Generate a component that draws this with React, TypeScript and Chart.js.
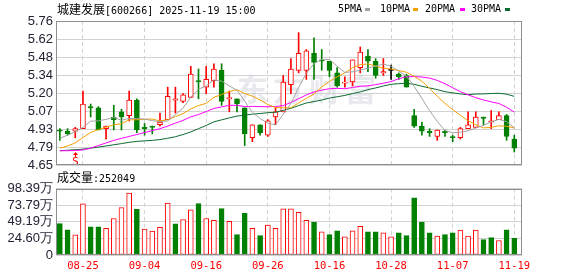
import React, { useEffect, useRef } from 'react';
import { Chart, registerables } from 'chart.js';

Chart.register(...registerables);

// ---------- data ----------
const DATES = [
  '08-20', '08-21', '08-22', '08-25', '08-26', '08-27', '08-28', '08-29', '09-01', '09-02',
  '09-03', '09-04', '09-05', '09-08', '09-09', '09-10', '09-11', '09-12', '09-15', '09-16',
  '09-17', '09-18', '09-19', '09-22', '09-23', '09-24', '09-25', '09-26', '09-29', '09-30',
  '10-09', '10-10', '10-13', '10-14', '10-15', '10-16', '10-17', '10-20', '10-21', '10-22',
  '10-23', '10-24', '10-27', '10-28', '10-29', '10-30', '10-31', '11-03', '11-04', '11-05',
  '11-06', '11-07', '11-10', '11-11', '11-12', '11-13', '11-14', '11-17', '11-18', '11-19',
];

const OPEN = [
  4.92, 4.91, 4.91, 4.93, 5.10, 5.09, 4.93, 5.02, 5.06, 5.03,
  5.15, 4.94, 4.95, 4.96, 5.00, 5.15, 5.14, 5.17, 5.30, 5.25,
  5.30, 5.38, 5.16, 5.16, 5.09, 4.86, 4.96, 4.88, 5.02, 5.06,
  5.27, 5.38, 5.38, 5.51, 5.46, 5.45, 5.36, 5.28, 5.29, 5.40,
  5.49, 5.45, 5.36, 5.38, 5.35, 5.34, 5.03, 4.95, 4.91, 4.87,
  4.91, 4.87, 4.86, 4.93, 4.94, 5.02, 4.98, 5.00, 5.03, 4.85,
];
const HIGH = [
  4.93, 4.93, 4.94, 5.22, 5.12, 5.10, 4.95, 5.11, 5.08, 5.22,
  5.16, 4.97, 4.95, 5.05, 5.25, 5.25, 5.20, 5.41, 5.39, 5.41,
  5.43, 5.43, 5.22, 5.16, 5.09, 4.96, 4.96, 5.00, 5.09, 5.34,
  5.47, 5.67, 5.54, 5.63, 5.54, 5.45, 5.40, 5.33, 5.46, 5.56,
  5.54, 5.47, 5.47, 5.42, 5.36, 5.35, 5.08, 4.98, 4.93, 4.92,
  4.92, 4.88, 4.94, 5.06, 5.06, 5.02, 5.07, 5.06, 5.04, 4.88,
];
const LOW = [
  4.84, 4.88, 4.86, 4.93, 5.02, 4.92, 4.85, 4.92, 4.92, 4.99,
  4.90, 4.88, 4.89, 4.95, 5.00, 5.05, 5.13, 5.17, 5.16, 5.20,
  5.25, 5.11, 5.06, 5.06, 4.80, 4.83, 4.88, 4.87, 4.96, 5.06,
  5.20, 5.36, 5.31, 5.31, 5.38, 5.33, 5.25, 5.25, 5.26, 5.36,
  5.37, 5.32, 5.34, 5.31, 5.31, 5.25, 4.94, 4.88, 4.87, 4.84,
  4.87, 4.83, 4.85, 4.93, 4.94, 4.96, 4.93, 5.00, 4.84, 4.75,
];
const CLOSE = [
  4.91, 4.89, 4.93, 5.12, 5.09, 4.92, 4.95, 5.00, 5.02, 5.15,
  4.92, 4.93, 4.94, 4.98, 5.18, 5.16, 5.19, 5.35, 5.29, 5.31,
  5.39, 5.14, 5.17, 5.12, 4.89, 4.96, 4.90, 4.99, 5.06, 5.29,
  5.39, 5.51, 5.53, 5.44, 5.45, 5.38, 5.26, 5.29, 5.46, 5.52,
  5.45, 5.34, 5.37, 5.38, 5.33, 5.25, 4.95, 4.91, 4.90, 4.92,
  4.90, 4.86, 4.93, 4.96, 5.02, 5.01, 4.99, 5.03, 4.87, 4.78,
];

const MA5 = [
  4.856, 4.88, 4.905, 4.94, 4.988, 4.99, 5.002, 5.016, 4.996, 5.008,
  5.008, 5.004, 4.992, 4.984, 4.99, 5.038, 5.09, 5.172, 5.234, 5.26,
  5.306, 5.296, 5.26, 5.226, 5.142, 5.056, 5.008, 4.972, 4.96, 5.04,
  5.126, 5.248, 5.356, 5.432, 5.464, 5.462, 5.412, 5.364, 5.368, 5.382,
  5.396, 5.412, 5.428, 5.412, 5.374, 5.334, 5.256, 5.164, 5.068, 4.986,
  4.916, 4.898, 4.902, 4.914, 4.934, 4.956, 4.982, 5.002, 4.984, 4.936,
];
const MA10 = [
  4.78, 4.797, 4.82, 4.862, 4.901, 4.923, 4.941, 4.96, 4.968, 4.998,
  4.999, 5.003, 5.004, 4.99, 4.999, 5.023, 5.047, 5.082, 5.109, 5.125,
  5.172, 5.193, 5.216, 5.23, 5.201, 5.181, 5.152, 5.116, 5.093, 5.091,
  5.091, 5.128, 5.164, 5.196, 5.252, 5.294, 5.33, 5.36, 5.40, 5.423,
  5.429, 5.412, 5.396, 5.39, 5.378, 5.365, 5.334, 5.296, 5.24, 5.18,
  5.125, 5.077, 5.033, 4.991, 4.96, 4.936, 4.94, 4.952, 4.949, 4.935,
];
const MA20 = [
  4.76, 4.76, 4.762, 4.766, 4.78, 4.80, 4.82, 4.84, 4.855, 4.87,
  4.885, 4.90, 4.915, 4.93, 4.95, 4.973, 4.994, 5.021, 5.039, 5.062,
  5.086, 5.098, 5.11, 5.11, 5.10, 5.102, 5.10, 5.099, 5.101, 5.108,
  5.132, 5.161, 5.19, 5.213, 5.227, 5.238, 5.241, 5.238, 5.247, 5.257,
  5.26, 5.27, 5.28, 5.293, 5.315, 5.33, 5.332, 5.328, 5.32, 5.302,
  5.277, 5.245, 5.215, 5.191, 5.169, 5.151, 5.137, 5.124, 5.095, 5.058,
];
const MA30 = [
  4.76, 4.764, 4.768, 4.772, 4.78, 4.788, 4.797, 4.806, 4.815, 4.825,
  4.832, 4.836, 4.84, 4.846, 4.856, 4.868, 4.885, 4.905, 4.93, 4.955,
  4.983, 4.998, 5.013, 5.027, 5.034, 5.042, 5.047, 5.053, 5.057, 5.071,
  5.087, 5.108, 5.128, 5.139, 5.151, 5.166, 5.176, 5.186, 5.201, 5.213,
  5.231, 5.244, 5.259, 5.272, 5.277, 5.28, 5.272, 5.257, 5.244, 5.231,
  5.215, 5.206, 5.198, 5.192, 5.197, 5.198, 5.201, 5.203, 5.196, 5.179,
];

// volume in 万
const VOLUME = [
  46.6, 37.4, 29.8, 76.0, 41.8, 41.8, 39.8, 54.2, 70.3, 91.9,
  67.7, 38.4, 35.7, 41.3, 77.0, 46.3, 52.8, 67.2, 76.3, 54.2,
  51.4, 69.0, 49.9, 30.2, 61.9, 39.8, 28.8, 44.6, 39.8, 68.6,
  68.6, 63.4, 51.4, 49.0, 34.6, 30.2, 36.0, 26.9, 36.0, 42.7,
  34.6, 34.6, 33.1, 26.9, 33.1, 28.8, 85.0, 49.0, 33.1, 28.3,
  30.2, 33.1, 37.0, 28.3, 37.0, 23.0, 25.9, 21.6, 37.4, 25.2049,
];
// U = red (up) bar, D = green (down) bar
const VOLUME_DIR = 'DDUUDDUUUUDUUUUDUUDUUDUDDUDUUUUUUDUDDUUUDDUUDDDDDUDDUUUDDUDD';

const PRICE_TICKS = [4.65, 4.78875, 4.9275, 5.06625, 5.205, 5.34375, 5.4825, 5.62125, 5.76];
const PRICE_TICK_LABELS = ['4.65', '4.79', '4.93', '5.07', '5.20', '5.34', '5.48', '5.62', '5.76'];
const VOL_TICKS = [0, 24.5975, 49.195, 73.7925, 98.39];
const VOL_TICK_LABELS = ['0', '24.60万', '49.19万', '73.79万', '98.39万'];
const DATE_TICKS = [3, 11, 19, 27, 35, 43, 51, 59];
const SIGNALS = [{ index: 2, text: 'S' }];

const TITLE_NAME = '城建发展';
const TITLE_REST = '[600266] 2025-11-19 15:00';
const VOLUME_TITLE = '成交量';
const VOLUME_LAST = '252049';
const WATERMARK = '东方财富';

const LEGEND = [
  { label: '5PMA', color: '#a3a3a3', tx: 338, dx: 365 },
  { label: '10PMA', color: '#f5a100', tx: 380, dx: 413 },
  { label: '20PMA', color: '#ff00ff', tx: 425, dx: 460 },
  { label: '30PMA', color: '#0b6b30', tx: 471, dx: 505 },
];

// ---------- styles ----------
const RED = '#ff0000';
const GREEN = '#008000';
const FLAT = '#000000';
const GRID = '#d2d2d2';
const FRAME = '#8e8e8e';
const AXIS_TEXT = '#222233';
const MONO = '"DejaVu Sans Mono", monospace';

const X_MIN = -0.5;
const X_MAX = 60;

const candleColor = (i: number) =>
  CLOSE[i] > OPEN[i] ? RED : CLOSE[i] < OPEN[i] ? GREEN : FLAT;

const framePlugin = {
  id: 'frame',
  afterDraw(chart: any) {
    const { left, top, right, bottom } = chart.chartArea;
    const ctx = chart.ctx;
    ctx.save();
    ctx.strokeStyle = FRAME;
    ctx.lineWidth = 1;
    const x0 = Math.round(left) + 0.5;
    const y0 = Math.round(top) + 0.5;
    const x1 = Math.round(right) - 0.5;
    const y1 = Math.round(bottom) - 0.5;
    ctx.strokeRect(x0, y0, x1 - x0, y1 - y0);
    ctx.restore();
  },
};

const watermarkPlugin = {
  id: 'watermark',
  beforeDatasetsDraw(chart: any) {
    const ctx = chart.ctx;
    ctx.save();
    ctx.font = 'bold 31px "Noto Sans CJK SC"';
    try {
      (ctx as any).letterSpacing = '5px';
    } catch (e) {
      /* ignore */
    }
    ctx.fillStyle = 'rgba(200, 202, 212, 0.42)';
    ctx.textAlign = 'center';
    ctx.textBaseline = 'middle';
    ctx.fillText(WATERMARK, 309, 89);
    ctx.restore();
  },
};

const signalPlugin = {
  id: 'signals',
  afterDatasetsDraw(chart: any) {
    const ctx = chart.ctx;
    const xs = chart.scales.x;
    const bottom = chart.chartArea.bottom;
    ctx.save();
    ctx.fillStyle = RED;
    ctx.strokeStyle = RED;
    ctx.lineWidth = 1;
    SIGNALS.forEach((s) => {
      const x = Math.round(xs.getPixelForValue(s.index)) + 0.5;
      ctx.beginPath();
      ctx.moveTo(x, bottom - 8);
      ctx.lineTo(x, bottom - 12);
      ctx.stroke();
      ctx.beginPath();
      ctx.moveTo(x - 2.5, bottom - 10);
      ctx.lineTo(x, bottom - 13);
      ctx.lineTo(x + 2.5, bottom - 10);
      ctx.closePath();
      ctx.fill();
      ctx.font = '10px "DejaVu Sans"';
      ctx.textAlign = 'center';
      ctx.textBaseline = 'alphabetic';
      ctx.fillText(s.text, x, bottom - 0.5);
    });
    ctx.restore();
  },
};

function xScale(showLabels: boolean, height: number) {
  return {
    type: 'linear',
    min: X_MIN,
    max: X_MAX,
    offset: false,
    afterBuildTicks: (axis: any) => {
      axis.ticks = DATE_TICKS.map((v) => ({ value: v }));
    },
    afterFit: (axis: any) => {
      axis.height = height;
    },
    grid: { color: GRID, lineWidth: 1, drawTicks: false, offset: false },
    border: { display: false, dash: [4, 3] },
    ticks: {
      display: showLabels,
      autoSkip: false,
      maxRotation: 0,
      padding: 5,
      color: RED,
      font: { family: MONO, size: 10.5 },
      callback: (v: number) => DATES[v] ?? '',
    },
  };
}

function yScale(min: number, max: number, ticks: number[], labels: string[]) {
  return {
    type: 'linear',
    position: 'left',
    min,
    max,
    beginAtZero: false,
    afterBuildTicks: (axis: any) => {
      axis.ticks = ticks.map((v) => ({ value: v }));
    },
    afterFit: (axis: any) => {
      axis.width = 56;
    },
    grid: { color: GRID, lineWidth: 1, drawTicks: false },
    border: { display: false },
    ticks: {
      autoSkip: false,
      padding: 3,
      color: AXIS_TEXT,
      font: { family: '"Liberation Sans", Arial, sans-serif', size: 13 },
      callback: (v: number) => {
        const k = ticks.findIndex((t) => Math.abs(t - v) < 1e-6);
        return k >= 0 ? labels[k] : '';
      },
    },
  };
}

function PriceChart() {
  const ref = useRef<HTMLCanvasElement | null>(null);
  useEffect(() => {
    if (!ref.current) return;
    const idx = DATES.map((_, i) => i);
    const lineDs = (label: string, values: number[], color: string, order: number) => ({
      type: 'line',
      label,
      data: values.map((v, i) => ({ x: i, y: v })),
      borderColor: color,
      borderWidth: 1,
      pointRadius: 0,
      tension: 0,
      fill: false,
      order,
    });
    const chart = new Chart(ref.current, {
      type: 'bar',
      data: {
        datasets: [
          {
            type: 'bar',
            label: 'wick',
            data: idx.map((i) => ({ x: i, y: [LOW[i], HIGH[i]] })),
            backgroundColor: idx.map(candleColor),
            borderWidth: 0,
            barThickness: 1,
            minBarLength: 1,
            grouped: false,
            order: 6,
          },
          {
            type: 'bar',
            label: 'body',
            data: idx.map((i) => ({ x: i, y: [OPEN[i], CLOSE[i]] })),
            backgroundColor: idx.map((i) => (CLOSE[i] > OPEN[i] ? '#ffffff' : candleColor(i))),
            borderColor: idx.map(candleColor),
            borderWidth: 1,
            borderSkipped: false,
            barThickness: 5,
            minBarLength: 1,
            grouped: false,
            order: 5,
          },
          lineDs('MA30', MA30, LEGEND[3].color, 4),
          lineDs('MA20', MA20, LEGEND[2].color, 3),
          lineDs('MA10', MA10, LEGEND[1].color, 2),
          lineDs('MA5', MA5, LEGEND[0].color, 1),
        ] as any,
      },
      options: {
        responsive: false,
        animation: false,
        devicePixelRatio: 1,
        events: [],
        layout: { padding: { left: 0, right: 56, top: 21, bottom: 11 } },
        plugins: { legend: { display: false }, tooltip: { enabled: false } },
        scales: {
          x: xScale(false, 0),
          y: yScale(4.65, 5.76, PRICE_TICKS, PRICE_TICK_LABELS),
        } as any,
      },
      plugins: [watermarkPlugin, signalPlugin, framePlugin],
    } as any);
    return () => chart.destroy();
  }, []);
  return (
    <canvas
      ref={ref}
      width={578}
      height={176}
      style={{ position: 'absolute', left: 0, top: 0, width: 578, height: 176 }}
    />
  );
}

function VolumeChart() {
  const ref = useRef<HTMLCanvasElement | null>(null);
  useEffect(() => {
    if (!ref.current) return;
    const idx = DATES.map((_, i) => i);
    const up = (i: number) => VOLUME_DIR[i] === 'U';
    const chart = new Chart(ref.current, {
      type: 'bar',
      data: {
        datasets: [
          {
            label: 'volume',
            data: idx.map((i) => ({ x: i, y: VOLUME[i] })),
            backgroundColor: idx.map((i) => (up(i) ? '#ffffff' : GREEN)),
            borderColor: idx.map((i) => (up(i) ? RED : GREEN)),
            borderWidth: 1,
            borderSkipped: false,
            barThickness: 5,
            grouped: false,
          },
        ] as any,
      },
      options: {
        responsive: false,
        animation: false,
        devicePixelRatio: 1,
        events: [],
        layout: { padding: { left: 0, right: 56, top: 9, bottom: 0 } },
        plugins: { legend: { display: false }, tooltip: { enabled: false } },
        scales: {
          x: xScale(true, 21),
          y: yScale(0, 98.39, VOL_TICKS, VOL_TICK_LABELS),
        } as any,
      },
      plugins: [framePlugin],
    } as any);
    return () => chart.destroy();
  }, []);
  return (
    <canvas
      ref={ref}
      width={578}
      height={98}
      style={{ position: 'absolute', left: 0, top: 178, width: 578, height: 98 }}
    />
  );
}

export default function App() {
  const cjk = '"Noto Sans CJK SC", sans-serif';
  return (
    <div
      style={{
        position: 'absolute',
        left: 0,
        top: 0,
        width: 578,
        height: 276,
        background: '#ffffff',
        overflow: 'hidden',
      }}
    >
      <PriceChart />
      <VolumeChart />
      <div
        style={{
          position: 'absolute',
          left: 57,
          top: 2,
          height: 14,
          lineHeight: '14px',
          whiteSpace: 'pre',
          color: '#000',
        }}
      >
        <span style={{ fontFamily: cjk, fontSize: 12 }}>{TITLE_NAME}</span>
        <span style={{ fontFamily: MONO, fontSize: 10 }}>{TITLE_REST}</span>
      </div>
      {LEGEND.map((l) => (
        <React.Fragment key={l.label}>
          <div
            style={{
              position: 'absolute',
              left: l.tx,
              top: 2,
              height: 14,
              lineHeight: '14px',
              fontFamily: MONO,
              fontSize: 10,
              color: '#000',
              whiteSpace: 'pre',
            }}
          >
            {l.label}
          </div>
          <div
            style={{
              position: 'absolute',
              left: l.dx,
              top: 8,
              width: 5,
              height: 3,
              background: l.color,
            }}
          />
        </React.Fragment>
      ))}
      <div
        style={{
          position: 'absolute',
          left: 57,
          top: 170,
          height: 14,
          lineHeight: '14px',
          whiteSpace: 'pre',
          color: '#000',
        }}
      >
        <span style={{ fontFamily: cjk, fontSize: 12 }}>{VOLUME_TITLE}</span>
        <span style={{ fontFamily: MONO, fontSize: 10 }}>{':' + VOLUME_LAST}</span>
      </div>
    </div>
  );
}
